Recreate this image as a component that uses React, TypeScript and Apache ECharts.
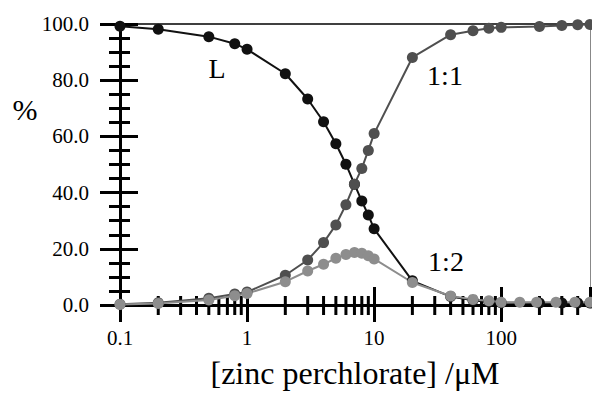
import React, { useEffect, useRef } from 'react';
import * as echarts from 'echarts';

const FONT = 'Liberation Serif';

// Ligand (L)
const xValuesL = [0.1, 0.2, 0.5, 0.8, 1, 2, 3, 4, 5, 6, 7, 8, 9, 10, 20, 40, 60, 80, 100, 200, 300, 400, 500];
const percentL = [99.2, 98.1, 95.5, 93.0, 91.0, 82.3, 73.3, 65.2, 57.4, 50.1, 43.0, 37.0, 32.0, 27.1, 8.6, 3.0, 1.7, 1.1, 0.8, 0.7, 0.7, 0.7, 0.7];
// 1:1 complex
const xValues11 = [0.1, 0.2, 0.5, 0.8, 1, 2, 3, 4, 5, 6, 7, 8, 9, 10, 20, 40, 60, 80, 100, 200, 300, 400, 500];
const percent11 = [0.3, 0.8, 2.4, 3.9, 4.6, 10.6, 16.0, 22.2, 28.5, 35.7, 43.0, 48.6, 55.0, 61.0, 88.1, 96.2, 97.6, 98.5, 98.8, 99.1, 99.5, 99.7, 99.8];
// 1:2 complex
const xValues12 = [0.1, 0.2, 0.5, 0.8, 1, 2, 3, 4, 5, 6, 7, 8, 9, 10, 20, 40, 60, 80, 100, 140, 190, 270, 380, 500];
const percent12 = [0.2, 0.5, 1.8, 3.3, 4.1, 8.3, 12.1, 14.5, 16.6, 18.0, 18.7, 18.4, 17.5, 16.4, 8.0, 3.2, 2.0, 1.5, 1.0, 1.0, 1.0, 1.0, 1.0, 1.0];

// minor tick positions on the log x axis
const xMinorTicks = [0.2, 0.3, 0.4, 0.5, 0.6, 0.7, 0.8, 0.9, 2, 3, 4, 5, 6, 7, 8, 9, 20, 30, 40, 50, 60, 70, 80, 90, 200, 300, 400];

const X_MIN = 0.1;
const X_MAX = 500;
const Y_MIN = 0;
const Y_MAX = 100;
const Y_INTERVAL = 20;

const zip = (xs: number[], ys: number[]) => xs.map((x, i) => [x, ys[i]]);

export default function App() {
  const ref = useRef<HTMLDivElement>(null);
  useEffect(() => {
    if (!ref.current) return;
    const chart = echarts.init(ref.current, undefined, { renderer: 'svg' });
    const line = (name: string, data: number[][], color: string) => ({
      name,
      type: 'line',
      xAxisIndex: 0,
      yAxisIndex: 0,
      data,
      symbol: 'circle',
      symbolSize: 11,
      lineStyle: { color, width: 2 },
      itemStyle: { color },
      emphasis: { disabled: true },
      clip: false,
    });
    chart.setOption({
      animation: false,
      grid: { left: 120, right: 2, top: 24, bottom: 88, containLabel: false, outerBoundsMode: 'none' },
      xAxis: [
        {
          type: 'log',
          min: X_MIN,
          max: X_MAX,
          logBase: 10,
          position: 'bottom',
          axisLine: { show: true, onZero: false, lineStyle: { color: '#000', width: 3 } },
          axisTick: { show: true, inside: false, length: 17, lineStyle: { color: '#000', width: 3 } },
          axisLabel: {
            show: true,
            showMaxLabel: false,
            margin: 22,
            fontSize: 21,
            fontFamily: FONT,
            color: '#000',
            formatter: (v: number) => (v > 450 ? '' : String(+v.toPrecision(3))),
          },
          splitLine: { show: false },
          name: '[zinc perchlorate] /\u03bcM',
          nameLocation: 'middle',
          nameGap: 52,
          nameTextStyle: { fontSize: 32, lineHeight: 32, fontFamily: FONT, color: '#000' },
        },
        {
          type: 'log',
          min: X_MIN,
          max: X_MAX,
          logBase: 10,
          position: 'bottom',
          axisLine: { show: false, onZero: false },
          axisTick: { show: true, inside: true, length: 18, lineStyle: { color: '#000', width: 3 } },
          axisLabel: { show: false },
          splitLine: { show: false },
        },
        {
          type: 'log',
          min: X_MIN,
          max: X_MAX,
          logBase: 10,
          position: 'top',
          axisLine: { show: true, onZero: false, lineStyle: { color: '#000', width: 1.5 } },
          axisTick: { show: false },
          axisLabel: { show: false },
          splitLine: { show: false },
        },
      ],
      yAxis: [
        {
          type: 'value',
          min: Y_MIN,
          max: Y_MAX,
          interval: Y_INTERVAL,
          position: 'left',
          axisLine: { show: true, onZero: false, lineStyle: { color: '#000', width: 3 } },
          axisTick: { show: true, inside: false, length: 20, lineStyle: { color: '#000', width: 3 } },
          minorTick: { show: true, splitNumber: 4, length: 11, lineStyle: { color: '#000', width: 3 } },
          axisLabel: {
            margin: 31,
            fontSize: 21,
            fontFamily: FONT,
            color: '#000',
            formatter: (v: number) => v.toFixed(1),
          },
          splitLine: { show: false },
        },
        {
          type: 'value',
          min: Y_MIN,
          max: Y_MAX,
          interval: Y_INTERVAL,
          position: 'left',
          axisLine: { show: false, onZero: false },
          axisTick: { show: true, inside: true, length: 18, lineStyle: { color: '#000', width: 3 } },
          minorTick: { show: true, splitNumber: 4, length: 10, lineStyle: { color: '#000', width: 3 } },
          axisLabel: { show: false },
          splitLine: { show: false },
        },
        {
          type: 'value',
          min: Y_MIN,
          max: Y_MAX,
          interval: Y_INTERVAL,
          position: 'right',
          axisLine: { show: true, onZero: false, lineStyle: { color: '#888', width: 1 } },
          axisTick: { show: false },
          axisLabel: { show: false },
          splitLine: { show: false },
        },
      ],
      series: [
        {
          type: 'custom',
          xAxisIndex: 0,
          yAxisIndex: 0,
          clip: false,
          silent: true,
          data: xMinorTicks.map((x) => [x, Y_MIN]),
          renderItem: (_params: any, api: any) => {
            const p = api.coord([api.value(0), api.value(1)]);
            return {
              type: 'line',
              shape: { x1: p[0], y1: p[1] - 9, x2: p[0], y2: p[1] + 10 },
              style: { stroke: '#000', lineWidth: 3 },
            };
          },
          z: 1,
        },
        line('L', zip(xValuesL, percentL), '#111111'),
        line('1:1', zip(xValues11, percent11), '#4f4f4f'),
        line('1:2', zip(xValues12, percent12), '#8d8d8d'),
      ],
      graphic: [
        { type: 'text', x: 25, y: 109, style: { text: '%', fontSize: 30, fontFamily: FONT, fill: '#000', align: 'center', verticalAlign: 'middle' } },
        { type: 'text', x: 217, y: 68, style: { text: 'L', fontSize: 28, fontFamily: FONT, fill: '#000', align: 'center', verticalAlign: 'middle' } },
        { type: 'text', x: 445, y: 75, style: { text: '1:1', fontSize: 28, fontFamily: FONT, fill: '#000', align: 'center', verticalAlign: 'middle' } },
        { type: 'text', x: 446, y: 261, style: { text: '1:2', fontSize: 28, fontFamily: FONT, fill: '#000', align: 'center', verticalAlign: 'middle' } },
      ],
    });
    return () => chart.dispose();
  }, []);
  return <div ref={ref} style={{ width: 592, height: 393, position: 'absolute', left: 0, top: 0, background: '#fff' }} />;
}
